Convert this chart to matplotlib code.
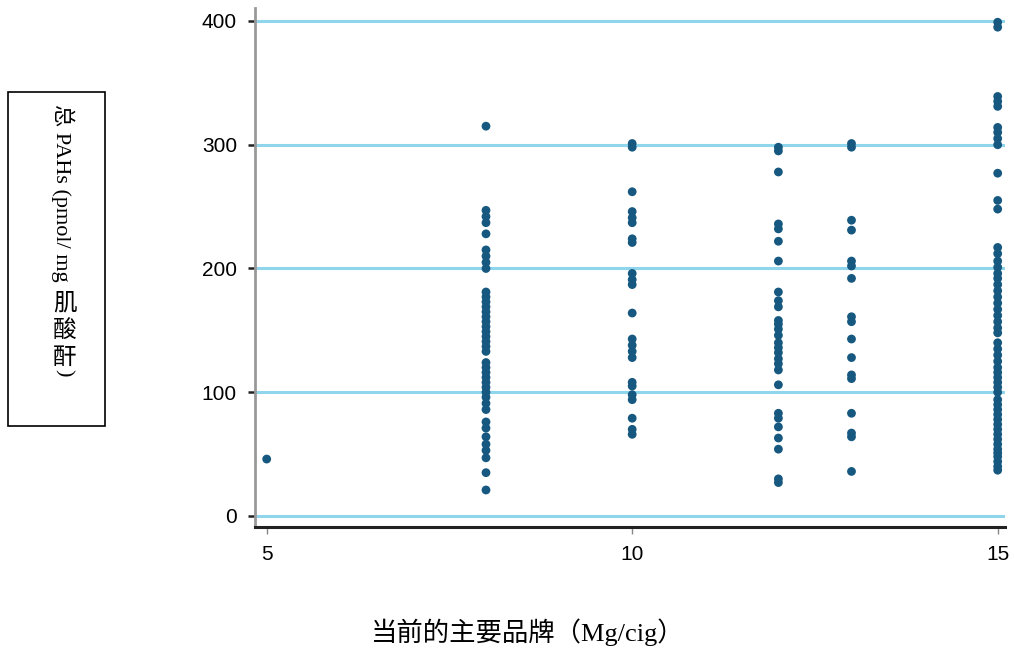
import numpy as np
import matplotlib.pyplot as plt
from matplotlib.patches import Rectangle

# 数据: 每个品牌焦油含量 (Mg/cig) 对应的总 PAHs
brand_x = [5, 8, 10, 12, 13, 15]
pahs_5 = [46]
pahs_8 = [315, 247, 242, 237, 228, 215, 210, 205, 200, 181, 177, 173, 169, 165,
          161, 157, 153, 149, 145, 141, 137, 133, 124, 120, 116, 112, 108, 104,
          100, 96, 91, 86, 76, 71, 64, 58, 53, 47, 35, 21]
pahs_10 = [301, 298, 262, 246, 241, 237, 224, 221, 196, 191, 187, 164, 143, 138,
           133, 128, 108, 105, 98, 94, 79, 70, 66]
pahs_12 = [298, 295, 278, 236, 232, 222, 206, 181, 174, 169, 158, 155, 151, 146,
           140, 136, 132, 127, 123, 118, 106, 83, 79, 72, 63, 54, 30, 27]
pahs_13 = [301, 298, 239, 231, 206, 202, 192, 161, 157, 143, 128, 114, 111, 83,
           67, 64, 36]
pahs_15 = [399, 395, 339, 335, 331, 314, 310, 305, 300, 277, 255, 248, 217, 212,
           206, 201, 196, 192, 187, 182, 177, 172, 167, 162, 157, 152, 148, 140,
           135, 130, 125, 120, 116, 112, 108, 104, 100, 94, 90, 86, 82, 78, 74,
           70, 66, 62, 58, 54, 51, 48, 44, 40, 37]
groups = [pahs_5, pahs_8, pahs_10, pahs_12, pahs_13, pahs_15]

y_ticks = [0, 100, 200, 300, 400]
x_ticks = [5, 10, 15]

xs = np.concatenate([[bx] * len(g) for bx, g in zip(brand_x, groups)])
ys = np.concatenate(groups)

serif_cjk = ['Liberation Serif', 'Noto Sans CJK SC']
sans = ['Liberation Sans', 'DejaVu Sans']

fig = plt.figure(figsize=(10.14, 6.5), dpi=100)
ax = fig.add_axes([255/1014, 123/650, 750/1014, 519/650])

# 网格线 (浅蓝色)
for yt in y_ticks:
    ax.axhline(yt, color='#8fd6ec', linewidth=2.2, zorder=1)

ax.scatter(xs, ys, s=40, color='#16587f', edgecolors='none', zorder=3)

ax.set_xlim(4.84, 15.1)
ax.set_ylim(-8.9, 410.5)
ax.set_xticks(x_ticks)
ax.set_yticks(y_ticks)
ax.set_xticklabels([str(t) for t in x_ticks], fontsize=15, family=sans)
ax.set_yticklabels([str(t) for t in y_ticks], fontsize=15, family=sans)
ax.tick_params(axis='y', length=5, width=1.8, color='#222222', pad=8)
ax.tick_params(axis='x', length=5, width=1.0, color='#888888', pad=8)

ax.spines['top'].set_visible(False)
ax.spines['right'].set_visible(False)
ax.spines['left'].set_color('#999999')
ax.spines['left'].set_linewidth(2)
ax.spines['bottom'].set_color('#222222')
ax.spines['bottom'].set_linewidth(2.2)

# x 轴标题
fig.text(528/1014, 1 - 632/650, '当前的主要品牌（Mg/cig）', fontsize=19,
         family=serif_cjk, ha='center', va='center')

# y 轴标题: 带框, 竖排
fig.add_artist(Rectangle((8/1014, 1 - 426/650), 97/1014, 334/650,
                         transform=fig.transFigure, fill=False,
                         edgecolor='black', linewidth=1.2))
fig.text(63/1014, 1 - 104/650, '总 PAHs (pmol/ mg', fontsize=16, rotation=270,
         family=serif_cjk, ha='center', va='top')
for i, ch in enumerate(['肌', '酸', '酐']):
    fig.text(65/1014, 1 - (304 + 27 * i)/650, ch, fontsize=17,
             family=serif_cjk, ha='center', va='center')
fig.text(63/1014, 1 - 369/650, ')', fontsize=16, rotation=270,
         family=serif_cjk, ha='center', va='top')

fig.savefig('out.png', dpi=100)
